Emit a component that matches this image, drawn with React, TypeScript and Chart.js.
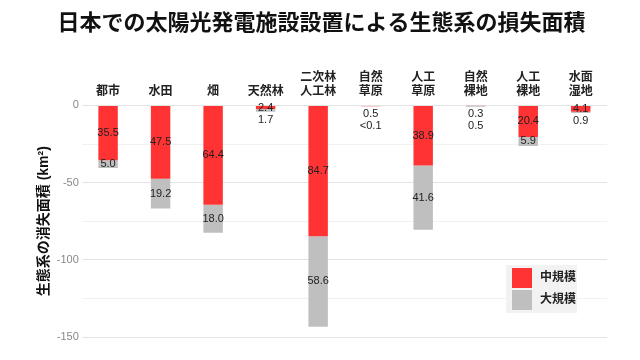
import React, { useEffect, useRef } from "react";
import { Chart, registerables } from "chart.js";

Chart.register(...registerables);

const titleText = "日本での太陽光発電施設設置による生態系の損失面積";
const categories: string[][] = [
  ["都市"], ["水田"], ["畑"], ["天然林"], ["二次林", "人工林"], ["自然", "草原"], ["人工", "草原"], ["自然", "裸地"], ["人工", "裸地"], ["水面", "湿地"],
];
const seriesNames = ["中規模", "大規模"];
const mediumValues = [35.5, 47.5, 64.4, 2.4, 84.7, 0.5, 38.9, 0.3, 20.4, 4.1];
const largeValues = [5.0, 19.2, 18.0, 1.7, 58.6, 0.05, 41.6, 0.5, 5.9, 0.9];
const yTicks = [0, -50, -100, -150];
const yAxisTitle = "生態系の消失面積 (km²)";

const FONT = "'Liberation Sans', 'Noto Sans CJK JP', sans-serif";
const RED = "#ff3333";
const GRAY = "#bfbfbf";

const fmt = (v: number) => (v < 0.1 ? "<0.1" : v.toFixed(1));

const labelPlugin = {
  id: "barLabels",
  afterDatasetsDraw(chart: any) {
    const ctx = chart.ctx;
    const m0 = chart.getDatasetMeta(0);
    const m1 = chart.getDatasetMeta(1);
    ctx.save();
    ctx.font = `11px ${FONT}`;
    ctx.fillStyle = "#222";
    ctx.textAlign = "center";
    ctx.textBaseline = "middle";
    for (let i = 0; i < mediumValues.length; i++) {
      const r = m0.data[i];
      const g = m1.data[i];
      const rh = Math.abs(r.y - r.base);
      let ry = (r.y + r.base) / 2;
      if (rh < 3) ry = r.base + 8;
      let gy = (g.y + g.base) / 2;
      gy = Math.max(gy, ry + 12);
      ctx.fillText(fmt(mediumValues[i]), r.x, ry);
      ctx.fillText(fmt(largeValues[i]), g.x, gy);
    }
    // category labels above the plot
    ctx.font = `bold 12px ${FONT}`;
    ctx.fillStyle = "#222";
    const top = chart.chartArea.top;
    const xs = chart.scales.x;
    categories.forEach((lines, i) => {
      const cx = xs.getPixelForValue(i);
      lines.forEach((ln, j) => {
        const y = top - 14 - (lines.length - 1 - j) * 14;
        ctx.fillText(ln, cx, y);
      });
    });
    ctx.restore();
  },
};

const legendPlugin = {
  id: "boxLegend",
  afterDraw(chart: any) {
    const ctx = chart.ctx;
    const x = 506, y = 265, w = 71, h = 48;
    ctx.save();
    ctx.fillStyle = "#f2f2f2";
    ctx.fillRect(x, y, w, h);
    const colors = [RED, GRAY];
    ctx.font = `bold 12px ${FONT}`;
    ctx.textAlign = "left";
    ctx.textBaseline = "middle";
    seriesNames.forEach((n, k) => {
      ctx.fillStyle = colors[k];
      ctx.fillRect(x + 6, y + 3 + k * 22, 20, 20);
      ctx.fillStyle = "#222";
      ctx.fillText(n, x + 34, y + 13 + k * 22);
    });
    ctx.restore();
  },
};

export default function App() {
  const ref = useRef<HTMLCanvasElement>(null);
  useEffect(() => {
    if (!ref.current) return;
    const chart = new Chart(ref.current, {
      type: "bar",
      data: {
        labels: categories.map((c) => c.join("")),
        datasets: [
          { label: seriesNames[0], data: mediumValues.map((v) => -v), backgroundColor: RED, barPercentage: 0.37, categoryPercentage: 1 },
          { label: seriesNames[1], data: largeValues.map((v) => -v), backgroundColor: GRAY, barPercentage: 0.37, categoryPercentage: 1 },
        ],
      },
      options: {
        animation: false,
        responsive: false,
        layout: { padding: { left: 36, right: 33, top: 0, bottom: 23 } },
        plugins: {
          legend: { display: false },
          tooltip: { enabled: false },
          title: {
            display: true,
            text: titleText,
            font: { family: FONT, size: 22, weight: "bold" },
            color: "#111",
            padding: { top: 11, bottom: 60 },
          },
        },
        scales: {
          x: {
            position: "top",
            stacked: true,
            grid: { display: false },
            border: { display: false },
            ticks: { display: false },
          },
          y: {
            stacked: true,
            min: -150,
            max: 0,
            border: { display: false },
            grid: {
              color: (c: any) => (yTicks.includes(c.tick?.value) ? "#e3e3e3" : "#f1f1f1"),
              drawTicks: false,
            },
            ticks: {
              stepSize: 25,
              padding: 3,
              color: "#888",
              font: { family: FONT, size: 11 },
              callback: (v: any) => (yTicks.includes(Number(v)) ? String(v) : ""),
            },
            title: {
              display: true,
              text: yAxisTitle,
              font: { family: FONT, size: 14, weight: "bold" },
              color: "#111",
              padding: { top: 0, bottom: 1 },
            },
          },
        },
      },
      plugins: [labelPlugin, legendPlugin],
    });
    return () => chart.destroy();
  }, []);
  return (
    <div style={{ position: "fixed", left: 0, top: 0, width: 640, height: 360, background: "#fff" }}>
      <canvas ref={ref} width={640} height={360} />
    </div>
  );
}
